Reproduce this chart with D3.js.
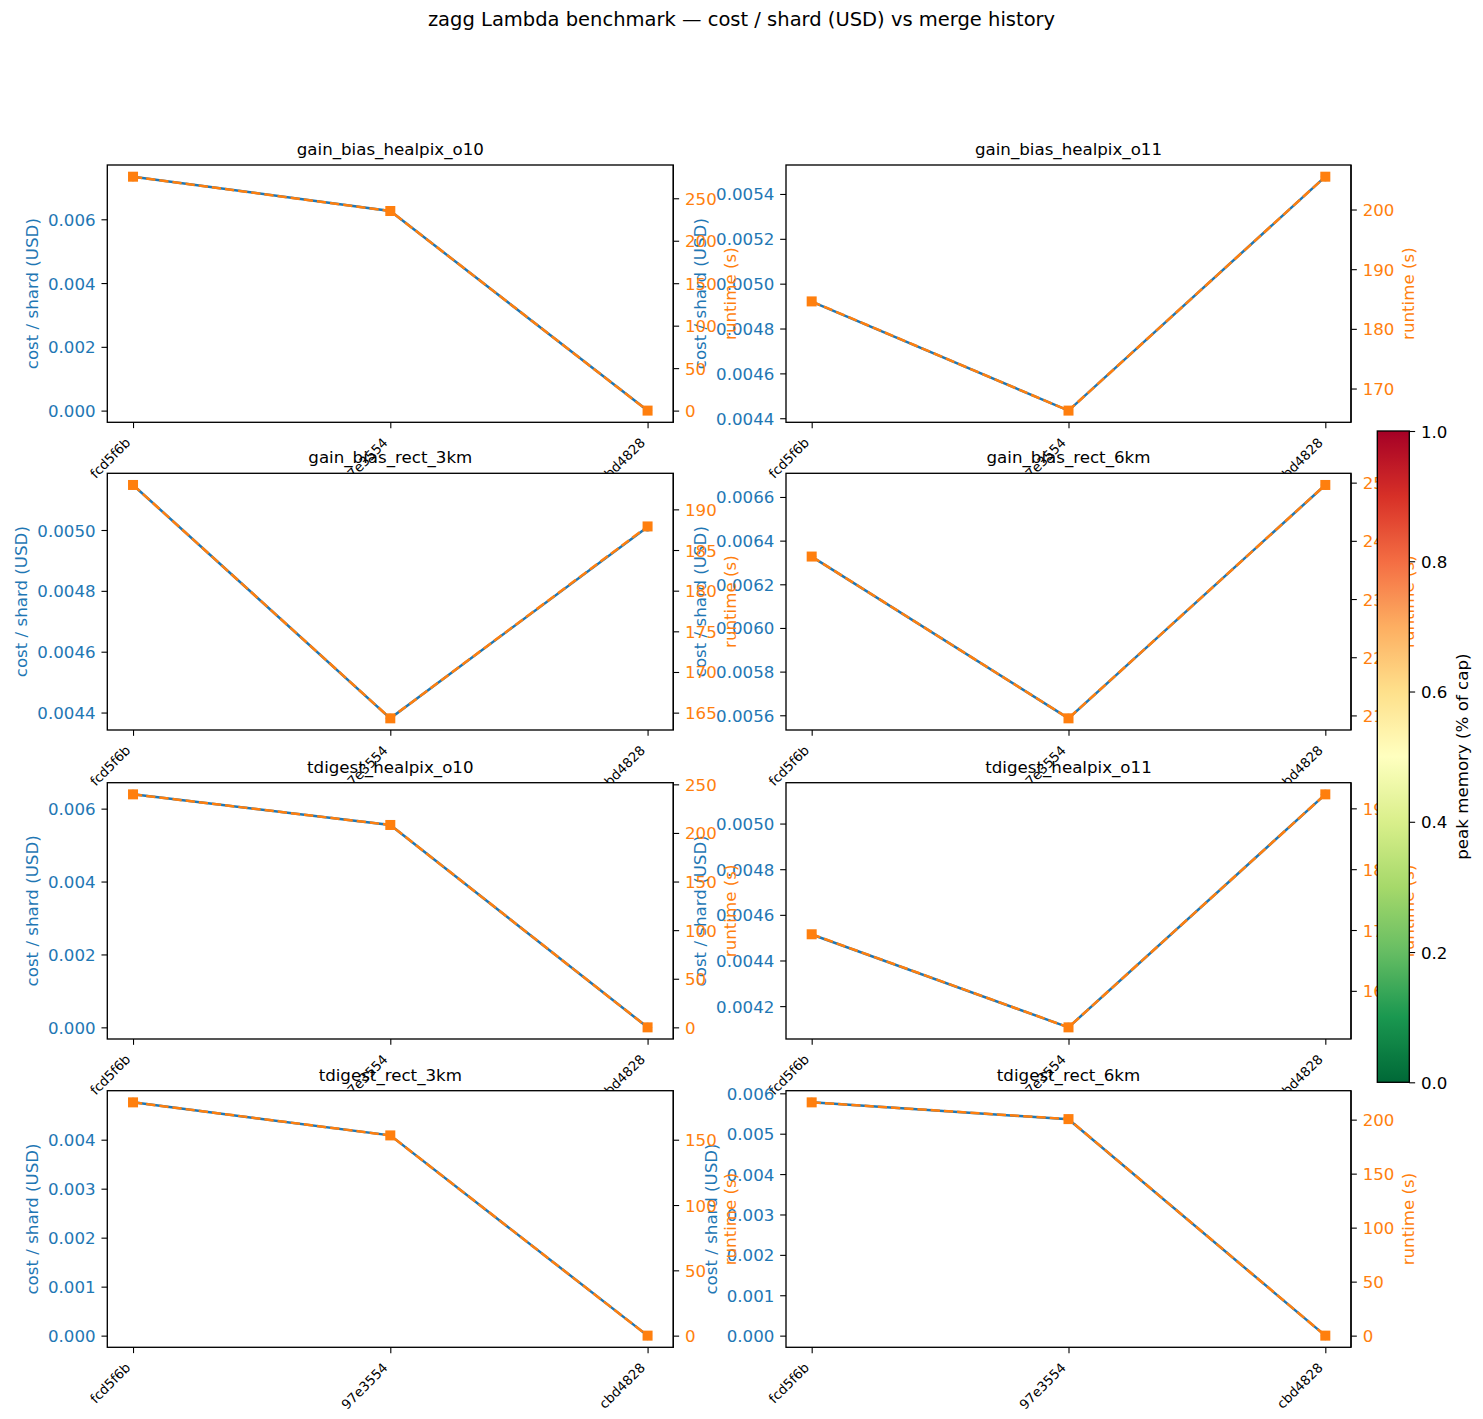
<!DOCTYPE html>
<html><head><meta charset="utf-8">
<script src="https://cdn.jsdelivr.net/npm/d3@7"></script>
<style>body{margin:0;background:#fff} svg text{font-family:"DejaVu Sans",sans-serif}</style>
</head><body><svg id="c" width="1483" height="1419"></svg>
<script>
// ---------------- data ----------------
const commits = ["fcd5f6b", "97e3554", "cbd4828"];
const panelNames = ["gain_bias_healpix_o10", "gain_bias_healpix_o11", "gain_bias_rect_3km", "gain_bias_rect_6km",
                    "tdigest_healpix_o10", "tdigest_healpix_o11", "tdigest_rect_3km", "tdigest_rect_6km"];

const costGainBiasHealpixO10 = [0.007336, 0.00626, 0];
const costGainBiasHealpixO11 = [0.00492, 0.004434, 0.005477];
const costGainBiasRect3km    = [0.005148, 0.004381, 0.00501];
const costGainBiasRect6km    = [0.006327, 0.005586, 0.006655];
const costTdigestHealpixO10  = [0.006392, 0.005552, 0];
const costTdigestHealpixO11  = [0.004514, 0.004107, 0.005128];
const costTdigestRect3km     = [0.004762, 0.004088, 0];
const costTdigestRect6km     = [0.005776, 0.005359, 0];

const runtimeGainBiasHealpixO10 = [275.4, 235.0, 0];
const runtimeGainBiasHealpixO11 = [184.6, 166.3, 205.5];
const runtimeGainBiasRect3km    = [193.0, 164.3, 187.9];
const runtimeGainBiasRect6km    = [237.3, 209.5, 249.6];
const runtimeTdigestHealpixO10  = [239.7, 208.2, 0];
const runtimeTdigestHealpixO11  = [169.3, 154.0, 192.3];
const runtimeTdigestRect3km     = [178.6, 153.3, 0];
const runtimeTdigestRect6km     = [216.0, 200.5, 0];

const costTicksGainBiasHealpixO10 = [0, 0.002, 0.004, 0.006];
const costTicksGainBiasHealpixO11 = [0.0044, 0.0046, 0.0048, 0.0050, 0.0052, 0.0054];
const costTicksGainBiasRect3km    = [0.0044, 0.0046, 0.0048, 0.0050];
const costTicksGainBiasRect6km    = [0.0056, 0.0058, 0.0060, 0.0062, 0.0064, 0.0066];
const costTicksTdigestHealpixO10  = [0, 0.002, 0.004, 0.006];
const costTicksTdigestHealpixO11  = [0.0042, 0.0044, 0.0046, 0.0048, 0.0050];
const costTicksTdigestRect3km     = [0, 0.001, 0.002, 0.003, 0.004];
const costTicksTdigestRect6km     = [0, 0.001, 0.002, 0.003, 0.004, 0.005, 0.006];

const runtimeTicksGainBiasHealpixO10 = [0, 50, 100, 150, 200, 250];
const runtimeTicksGainBiasHealpixO11 = [170, 180, 190, 200];
const runtimeTicksGainBiasRect3km    = [165, 170, 175, 180, 185, 190];
const runtimeTicksGainBiasRect6km    = [210, 220, 230, 240, 250];
const runtimeTicksTdigestHealpixO10  = [0, 50, 100, 150, 200, 250];
const runtimeTicksTdigestHealpixO11  = [160, 170, 180, 190];
const runtimeTicksTdigestRect3km     = [0, 50, 100, 150];
const runtimeTicksTdigestRect6km     = [0, 50, 100, 150, 200];

const colorbarTicks = [0, 0.2, 0.4, 0.6, 0.8, 1.0];
const rdYlGnColors = ["#a50026","#d73027","#f46d43","#fdae61","#fee08b","#ffffbf","#d9ef8b","#a6d96a","#66bd63","#1a9850","#006837"];

const costSeries = [costGainBiasHealpixO10, costGainBiasHealpixO11, costGainBiasRect3km, costGainBiasRect6km,
                    costTdigestHealpixO10, costTdigestHealpixO11, costTdigestRect3km, costTdigestRect6km];
const runtimeSeries = [runtimeGainBiasHealpixO10, runtimeGainBiasHealpixO11, runtimeGainBiasRect3km, runtimeGainBiasRect6km,
                       runtimeTdigestHealpixO10, runtimeTdigestHealpixO11, runtimeTdigestRect3km, runtimeTdigestRect6km];
const costTicks = [costTicksGainBiasHealpixO10, costTicksGainBiasHealpixO11, costTicksGainBiasRect3km, costTicksGainBiasRect6km,
                   costTicksTdigestHealpixO10, costTicksTdigestHealpixO11, costTicksTdigestRect3km, costTicksTdigestRect6km];
const runtimeTicks = [runtimeTicksGainBiasHealpixO10, runtimeTicksGainBiasHealpixO11, runtimeTicksGainBiasRect3km, runtimeTicksGainBiasRect6km,
                      runtimeTicksTdigestHealpixO10, runtimeTicksTdigestHealpixO11, runtimeTicksTdigestRect3km, runtimeTicksTdigestRect6km];

// ---------------- layout ----------------
const colX = [[107.3, 673.3], [786, 1351]];
const rowY = [[165, 422.3], [473.3, 730], [782.7, 1039], [1090.7, 1347.3]];
const FS = 16.67, FSX = 13.3, TICK = 5.83, PAD = 5.83;
const BLUE = "#1f77b4", ORANGE = "#ff7f0e";

const svg = d3.select("#c");
const primLayer = svg.append("g");
const twinLayer = svg.append("g");
const cbLayer = svg.append("g");

function padDomain(arr) {
  const [a, b] = d3.extent(arr);
  const r = (b - a) || 1;
  return [a - 0.05 * r, b + 0.05 * r];
}
function styleAxis(g, color) {
  g.select(".domain").remove();
  g.selectAll(".tick line").attr("stroke", "#000").attr("stroke-width", 1.1);
  g.selectAll(".tick text").attr("fill", color).style("font-size", FS + "px").attr("font-family", "DejaVu Sans");
}

costSeries.forEach((cost, i) => {
  const runtime = runtimeSeries[i];
  const col = i % 2, row = Math.floor(i / 2);
  const [x0, x1] = colX[col], [y0, y1] = rowY[row];
  const x = d3.scalePoint().domain(commits).range([x0, x1]).padding(0.1);
  const yc = d3.scaleLinear().domain(padDomain(cost)).range([y1, y0]);
  const yr = d3.scaleLinear().domain(padDomain(runtime)).range([y1, y0]);

  // ---- primary axes ----
  const g = primLayer.append("g");
  g.append("rect").attr("x", x0).attr("y", y0).attr("width", x1 - x0).attr("height", y1 - y0).attr("fill", "#fff");
  const lineC = d3.line().x((d, j) => x(commits[j])).y(d => yc(d));
  g.append("path").datum(cost).attr("d", lineC).attr("fill", "none").attr("stroke", BLUE).attr("stroke-width", 2.5);
  g.selectAll("circle.pt").data(cost).enter().append("circle")
    .attr("cx", (d, j) => x(commits[j])).attr("cy", d => yc(d)).attr("r", 4.5).attr("fill", BLUE);

  const ticks = costTicks[i];
  const step = ticks[1] - ticks[0];
  const dec = Math.max(0, -Math.floor(Math.log10(step) + 1e-9));
  const la = d3.axisLeft(yc).tickValues(ticks).tickFormat(d => d.toFixed(dec)).tickSize(TICK).tickPadding(PAD);
  const lg = g.append("g").attr("transform", `translate(${x0},0)`).call(la);
  styleAxis(lg, BLUE);
  lg.selectAll(".tick text").attr("dy", "0.36em");

  const xa = d3.axisBottom(x).tickSize(TICK).tickPadding(0);
  const xg = g.append("g").attr("transform", `translate(0,${y1})`).call(xa);
  xg.select(".domain").remove();
  xg.selectAll(".tick line").attr("stroke", "#000").attr("stroke-width", 1.1);
  xg.selectAll(".tick text").attr("x", 0).attr("y", 0).attr("dy", null)
    .attr("text-anchor", "end").attr("fill", "#000").style("font-size", FSX + "px")
    .attr("transform", `translate(-2.2,${TICK + PAD + 9.5}) rotate(-45)`);

  g.append("rect").attr("x", x0).attr("y", y0).attr("width", x1 - x0).attr("height", y1 - y0)
    .attr("fill", "none").attr("stroke", "#000").attr("stroke-width", 1.33);

  const lb = lg.node().getBBox();
  g.append("text").attr("transform", `translate(${x0 + lb.x - 10},${(y0 + y1) / 2}) rotate(-90)`)
    .attr("text-anchor", "middle").attr("fill", BLUE).style("font-size", FS + "px").text("cost / shard (USD)");

  g.append("text").attr("x", (x0 + x1) / 2).attr("y", y0 - 10).attr("text-anchor", "middle")
    .attr("fill", "#000").style("font-size", FS + "px").text(panelNames[i]);

  // ---- twin axes ----
  const t = twinLayer.append("g");
  const lineR = d3.line().x((d, j) => x(commits[j])).y(d => yr(d));
  t.append("path").datum(runtime).attr("d", lineR).attr("fill", "none").attr("stroke", ORANGE)
    .attr("stroke-width", 2.5).attr("stroke-dasharray", "9.25,4");
  t.selectAll("rect.sq").data(runtime).enter().append("rect")
    .attr("x", (d, j) => x(commits[j]) - 5).attr("y", d => yr(d) - 5).attr("width", 10).attr("height", 10).attr("fill", ORANGE);
  const ra = d3.axisRight(yr).tickValues(runtimeTicks[i]).tickFormat(d3.format("d")).tickSize(TICK).tickPadding(PAD);
  const rg = t.append("g").attr("transform", `translate(${x1},0)`).call(ra);
  styleAxis(rg, ORANGE);
  rg.selectAll(".tick text").attr("dy", "0.36em");
  t.append("line").attr("x1", x1).attr("x2", x1).attr("y1", y0).attr("y2", y1).attr("stroke", "#000").attr("stroke-width", 1.33);
  const rb = rg.node().getBBox();
  t.append("text").attr("transform", `translate(${x1 + rb.x + rb.width + 19.5},${(y0 + y1) / 2}) rotate(-90)`)
    .attr("text-anchor", "middle").attr("fill", ORANGE).style("font-size", FS + "px").text("runtime (s)");
});

// ---------------- colorbar ----------------
const cbX0 = 1377.3, cbX1 = 1409.3, cbY0 = 431, cbY1 = 1082.3;
const cmap = d3.piecewise(d3.interpolateRgb, rdYlGnColors);
const defs = svg.append("defs");
const grad = defs.append("linearGradient").attr("id", "cbgrad").attr("x1", 0).attr("y1", 0).attr("x2", 0).attr("y2", 1);
d3.range(0, 1.0001, 0.02).forEach(o => grad.append("stop").attr("offset", o).attr("stop-color", cmap(o)));
cbLayer.append("rect").attr("x", cbX0).attr("y", cbY0).attr("width", cbX1 - cbX0).attr("height", cbY1 - cbY0)
  .attr("fill", "url(#cbgrad)").attr("stroke", "#000").attr("stroke-width", 1.33);
const cbScale = d3.scaleLinear().domain([0, 1]).range([cbY1, cbY0]);
const cbAxis = d3.axisRight(cbScale).tickValues(colorbarTicks).tickFormat(d3.format(".1f")).tickSize(TICK).tickPadding(PAD);
const cbg = cbLayer.append("g").attr("transform", `translate(${cbX1},0)`).call(cbAxis);
styleAxis(cbg, "#000");
cbg.selectAll(".tick text").attr("dy", "0.36em");
cbLayer.append("text").attr("transform", `translate(1468,${(cbY0 + cbY1) / 2}) rotate(-90)`)
  .attr("text-anchor", "middle").attr("fill", "#000").style("font-size", FS + "px").text("peak memory (% of cap)");

// ---------------- suptitle ----------------
svg.append("text").attr("x", 741.5).attr("y", 25.5).attr("text-anchor", "middle").attr("fill", "#000")
  .style("font-size", "19.5px").text("zagg Lambda benchmark — cost / shard (USD) vs merge history");
</script></body></html>
